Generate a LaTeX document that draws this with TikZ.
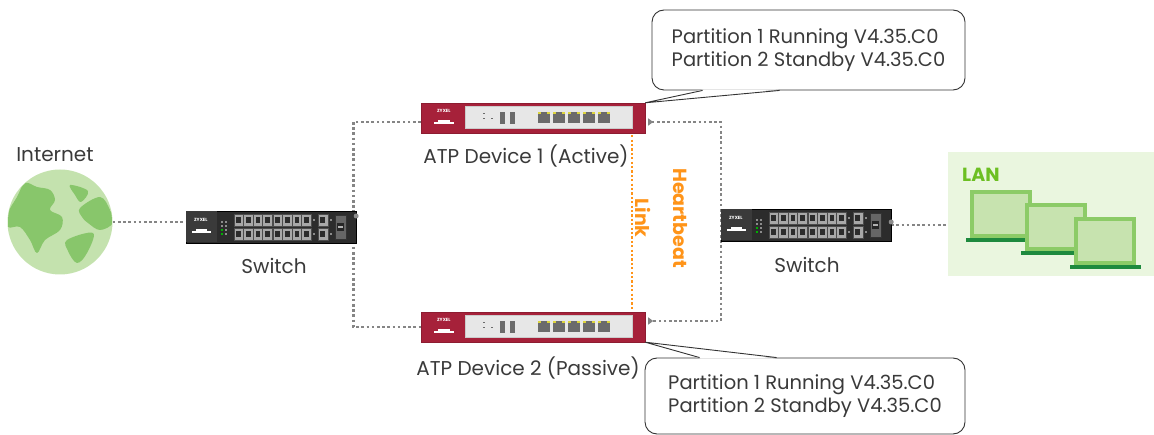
\documentclass[tikz,border=0pt]{standalone}
\usepackage{fontspec}
\setmainfont{Poppins}
\usetikzlibrary{positioning,calc,arrows.meta,backgrounds}

\definecolor{textgray}{HTML}{3A3A3A}
\definecolor{netgray}{HTML}{858585}
\definecolor{hborange}{HTML}{FF9419}
\definecolor{atpred}{HTML}{A6213A}
\definecolor{panelgray}{HTML}{E7E7E7}
\definecolor{portdark}{HTML}{6B6B6B}
\definecolor{portyellow}{HTML}{DCD43C}
\definecolor{swdark}{HTML}{2C2C2C}
\definecolor{swpanel}{HTML}{3A3A3A}
\definecolor{portgray}{HTML}{A8A8A8}
\definecolor{globelight}{HTML}{C4E2AE}
\definecolor{globedark}{HTML}{88C66B}
\definecolor{lanbg}{HTML}{EAF6DF}
\definecolor{langreen}{HTML}{6CBF22}
\definecolor{screenfill}{HTML}{C7E3AF}
\definecolor{screenedge}{HTML}{8CCB67}
\definecolor{basegreen}{HTML}{1E8A3E}

\begin{document}
\begin{tikzpicture}[x=1pt,y=-1pt]

  % Definitions
  \tikzstyle{switchbox} = [rectangle, minimum width=170pt, minimum height=32pt, fill=swdark, draw=black, inner sep=0pt]
  \tikzstyle{atpbox} = [rectangle, minimum width=224pt, minimum height=30pt, fill=atpred, draw=atpred!85!black, inner sep=0pt]
  \tikzstyle{bubble} = [rectangle, rounded corners=12pt, draw=black!80, fill=white, line width=0.9pt, align=left, inner sep=0pt, text=textgray, font=\fontsize{19.5}{23}\selectfont]
  \tikzstyle{lbl} = [inner sep=0pt, text=textgray, font=\fontsize{20}{20}\selectfont]
  \tikzstyle{hbl} = [inner sep=0pt, text=hborange, font=\fontsize{19}{19}\selectfont\bfseries]
  \tikzstyle{brand} = [inner sep=0pt, text=white, font=\fontsize{4.5}{5}\selectfont\bfseries]
  \tikzstyle{net} = [draw=netgray, line width=2.6pt, dash pattern=on 2.6pt off 2.6pt]
  \tikzstyle{hb} = [draw=hborange, line width=2.4pt, dash pattern=on 2.2pt off 2.2pt]
  \tikzstyle{endtri} = [{Triangle[reversed,length=5pt,width=7pt]}-{Triangle[reversed,length=5pt,width=7pt]}]

  \useasboundingbox (0,0) rectangle (1154,435);

  % LAN area
  \node[fill=lanbg, minimum width=206pt, minimum height=124pt, inner sep=0pt] (lan) at (1051,214) {};
  \node[inner sep=0pt, anchor=base west, text=langreen, font=\fontsize{19}{19}\selectfont\bfseries] (lanlbl) at (962,182) {LAN};
  \foreach \lx/\ly in {972/192, 1027/205, 1076/219} {
    \filldraw[fill=screenfill, draw=screenedge, line width=3.5pt] (\lx,\ly) rectangle ++(58,44);
    \fill[basegreen] (\lx-6,\ly+46) rectangle ++(71,4);
  }

  % globe
  \node[circle, fill=globelight, minimum size=105pt, inner sep=0pt] (globe) at (60,222) {};
  \begin{scope}
    \clip (globe) circle (52pt);
    \fill[globedark] plot[smooth cycle, tension=0.6] coordinates {(25,183) (37,187) (50,190) (55,200) (50,210) (62,217) (60,230) (45,240) (37,253) (30,240) (20,227) (8,227) (8,213) (17,197)};
    \fill[globedark] plot[smooth cycle, tension=0.6] coordinates {(70,185) (88,191) (81,202) (75,195)};
    \fill[globedark] plot[smooth cycle, tension=0.6] coordinates {(80,208) (100,197) (110,210) (113,223) (100,230) (88,223) (82,217)};
    \fill[globedark] plot[smooth cycle, tension=0.6] coordinates {(67,240) (93,233) (87,253) (77,263) (68,251)};
  \end{scope}
  \node[lbl, anchor=base] (inetlbl) at (55,162) {Internet};

  % switches
  \node[switchbox] (sw1) at (271,227) {};
  \node[switchbox] (sw2) at (806,225) {};
  \foreach \sw in {sw1,sw2} {
    \begin{scope}[shift={(\sw.west)}]
      \fill[swpanel] (0.5,-15.5) rectangle (31,15.5);
      \node[brand] at (15,-7) {ZYXEL};
      \fill[white] (6,4) rectangle (25,6.5);
      \fill[white] (10,2) rectangle (21,4);
      \foreach \py in {-6,2} {
        \fill[black!45] (35,\py) rectangle ++(2,2);
        \fill[black!45] (39,\py) rectangle ++(2,2);
        \fill[black!45] (35,\py+4) rectangle ++(2,2);
        \fill[black!45] (39,\py+4) rectangle ++(2,2);
      }
      \fill[green!70!black] (35,2) rectangle ++(2,2);
      \fill[green!70!black] (35,6) rectangle ++(2,2);
      \foreach \gx in {48,87} {
        \foreach \i in {0,...,3} {
          \foreach \py in {-13,1} {
            \filldraw[fill=portgray, draw=black!70, line width=0.4pt] (\gx+\i*9.6,\py) rectangle ++(9.6,12);
            \fill[swdark] (\gx+\i*9.6+2.5,\py+3) rectangle ++(4.6,6);
          }
        }
      }
      \foreach \py in {-13,1} {
        \filldraw[fill=portgray, draw=black!70, line width=0.4pt] (132,\py) rectangle ++(10,12);
        \fill[swdark] (134.5,\py+3) rectangle ++(5,6);
        \fill[black!45] (127.5,\py+5) rectangle ++(2,2);
        \fill[black!45] (144.5,\py+5) rectangle ++(2,2);
      }
      \filldraw[fill=black!60, draw=black!80, line width=0.4pt] (149,-12) rectangle (160,12);
      \fill[black!85] (151,-4) rectangle (158,4);
      \fill[black!30] (152,-1) rectangle (157,1);
    \end{scope}
  }
  \fill[black!45] ([yshift=11pt]sw1.east) circle (2.5pt);
  \fill[black!45] ([yshift=3pt]sw2.east) circle (2.5pt);
  \node[lbl, anchor=base] (sw1lbl) at (274,274) {Switch};
  \node[lbl, anchor=base] (sw2lbl) at (807,273) {Switch};

  % ATP devices
  \node[atpbox] (atp1) at (533,118) {};
  \node[atpbox] (atp2) at (533,327) {};
  \foreach \dev in {atp1,atp2} {
    \begin{scope}[shift={(\dev.west)}]
      \filldraw[fill=panelgray, draw=black!20, line width=0.5pt] (44,-12) rectangle (211,10);
      \node[brand] at (23,-7) {ZYXEL};
      \fill[white] (13,4) rectangle (33,6.5);
      \fill[white] (17,2) rectangle (29,4);
      \fill[portdark] (62,-5) rectangle ++(2,1.5);
      \fill[portdark] (62,0) rectangle ++(2,1.5);
      \fill[portdark] (70,0) rectangle ++(2,1.5);
      \fill[portdark] (79,-6) rectangle (84,6);
      \fill[portdark] (89,-6) rectangle (94,6);
      \foreach \i in {0,...,4} {
        \fill[portdark] (117+\i*15,-6) rectangle ++(12,11);
        \fill[portyellow] (117+\i*15,-6) rectangle ++(3,2);
        \fill[portyellow] (126+\i*15,-6) rectangle ++(3,2);
      }
    \end{scope}
  }
  \node[lbl, anchor=base] (atp1lbl) at (526,164) {ATP Device 1 (Active)};
  \node[lbl, anchor=base] (atp2lbl) at (528,376) {ATP Device 2 (Passive)};

  % connectors
  \begin{scope}[on background layer]
    \draw[net] (globe.east) -- (globe.east -| sw1.west);
    \draw[net] ([yshift=-4pt]atp1.west) -| ([xshift=-3pt]sw1.east) |- (atp2.west);
    \draw[net, endtri] ([xshift=3pt,yshift=-4pt]atp1.east) -| (sw2.west) |- ([xshift=3pt,yshift=6pt]atp2.east);
    \draw[net] (sw2.east) -- (sw2.east -| lan.west);
  \end{scope}
  \draw[hb, shorten <=2pt, shorten >=2pt] ([xshift=99pt]atp1.south) -- ([xshift=99pt]atp2.north);

  % heartbeat labels
  \node[hbl, rotate=-90] (linklbl) at (643,218) {Link};
  \node[hbl, rotate=-90] (hblbl) at (680,218) {Heartbeat};

  % firmware notes
  \node[bubble, minimum width=313pt, minimum height=80pt] (note1) at (808.5,50) {Partition 1 Running V4.35.C0\\Partition 2 Standby V4.35.C0};
  \fill[white] ([xshift=52pt,yshift=1pt]note1.south west) -- (atp1.north east) -- ([xshift=127pt,yshift=1pt]note1.south west) -- cycle;
  \draw[black!80, line width=0.9pt] ([xshift=51pt]note1.south west) -- (atp1.north east) -- ([xshift=128pt]note1.south west);

  \node[bubble, minimum width=320pt, minimum height=76pt] (note2) at (805,396) {Partition 1 Running V4.35.C0\\Partition 2 Standby V4.35.C0};
  \fill[white] ([xshift=56pt,yshift=-1pt]note2.north west) -- (atp2.south east) -- ([xshift=131pt,yshift=-1pt]note2.north west) -- cycle;
  \draw[black!80, line width=0.9pt] ([xshift=55pt]note2.north west) -- (atp2.south east) -- ([xshift=132pt]note2.north west);

\end{tikzpicture}
\end{document}
